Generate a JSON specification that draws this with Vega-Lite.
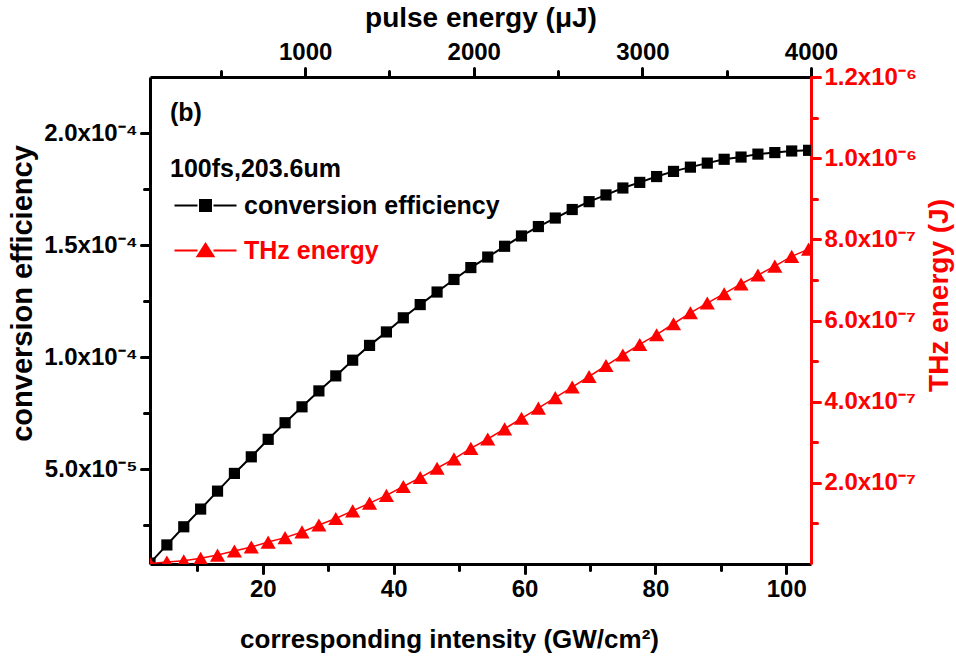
{
  "$schema": "https://vega.github.io/schema/vega-lite/v6.json",
  "width": 661,
  "height": 487,
  "autosize": {"type": "none"},
  "padding": {"left": 150, "top": 77, "right": 145, "bottom": 97},
  "background": "white",
  "config": {
    "font": "Liberation Sans",
    "view": {"stroke": null},
    "axis": {
      "grid": false,
      "domainColor": "black",
      "domainWidth": 3,
      "tickColor": "black",
      "tickWidth": 3,
      "tickCap": "round",
      "labelFont": "Liberation Sans",
      "labelFontSize": 24,
      "labelFontWeight": "bold",
      "labelColor": "black",
      "labelOverlap": false,
      "labelFlush": false,
      "labelPadding": 4,
      "titleFont": "Liberation Sans",
      "titleFontSize": 26,
      "titleFontWeight": "bold",
      "titleColor": "black"
    },
    "legend": {
      "labelFont": "Liberation Sans",
      "titleFont": "Liberation Sans"
    }
  },
  "data": {
    "values": [
      {"intensity": 2.77, "pulse": 80, "ce": 8.2e-6, "thz": 1e-9},
      {"intensity": 5.35, "pulse": 180, "ce": 1.63e-5, "thz": 5e-9},
      {"intensity": 7.93, "pulse": 280, "ce": 2.44e-5, "thz": 8e-9},
      {"intensity": 10.51, "pulse": 380, "ce": 3.23e-5, "thz": 1.4e-8},
      {"intensity": 13.09, "pulse": 480, "ce": 4.03e-5, "thz": 2.2e-8},
      {"intensity": 15.67, "pulse": 580, "ce": 4.82e-5, "thz": 3.2e-8},
      {"intensity": 18.25, "pulse": 680, "ce": 5.56e-5, "thz": 4.2e-8},
      {"intensity": 20.83, "pulse": 780, "ce": 6.34e-5, "thz": 5.4e-8},
      {"intensity": 23.41, "pulse": 880, "ce": 7.08e-5, "thz": 6.5e-8},
      {"intensity": 26.0, "pulse": 980, "ce": 7.79e-5, "thz": 7.9e-8},
      {"intensity": 28.58, "pulse": 1080, "ce": 8.5e-5, "thz": 9.6e-8},
      {"intensity": 31.16, "pulse": 1180, "ce": 9.17e-5, "thz": 1.12e-7},
      {"intensity": 33.74, "pulse": 1280, "ce": 9.87e-5, "thz": 1.31e-7},
      {"intensity": 36.32, "pulse": 1380, "ce": 1.053e-4, "thz": 1.5e-7},
      {"intensity": 38.9, "pulse": 1480, "ce": 1.113e-4, "thz": 1.69e-7},
      {"intensity": 41.48, "pulse": 1580, "ce": 1.176e-4, "thz": 1.91e-7},
      {"intensity": 44.06, "pulse": 1680, "ce": 1.235e-4, "thz": 2.13e-7},
      {"intensity": 46.64, "pulse": 1780, "ce": 1.291e-4, "thz": 2.36e-7},
      {"intensity": 49.22, "pulse": 1880, "ce": 1.347e-4, "thz": 2.59e-7},
      {"intensity": 51.8, "pulse": 1980, "ce": 1.4e-4, "thz": 2.85e-7},
      {"intensity": 54.38, "pulse": 2080, "ce": 1.447e-4, "thz": 3.08e-7},
      {"intensity": 56.96, "pulse": 2180, "ce": 1.495e-4, "thz": 3.33e-7},
      {"intensity": 59.54, "pulse": 2280, "ce": 1.541e-4, "thz": 3.59e-7},
      {"intensity": 62.12, "pulse": 2380, "ce": 1.583e-4, "thz": 3.84e-7},
      {"intensity": 64.7, "pulse": 2480, "ce": 1.621e-4, "thz": 4.1e-7},
      {"intensity": 67.29, "pulse": 2580, "ce": 1.659e-4, "thz": 4.36e-7},
      {"intensity": 69.87, "pulse": 2680, "ce": 1.694e-4, "thz": 4.62e-7},
      {"intensity": 72.45, "pulse": 2780, "ce": 1.724e-4, "thz": 4.89e-7},
      {"intensity": 75.03, "pulse": 2880, "ce": 1.755e-4, "thz": 5.15e-7},
      {"intensity": 77.61, "pulse": 2980, "ce": 1.78e-4, "thz": 5.41e-7},
      {"intensity": 80.19, "pulse": 3080, "ce": 1.806e-4, "thz": 5.65e-7},
      {"intensity": 82.77, "pulse": 3180, "ce": 1.829e-4, "thz": 5.92e-7},
      {"intensity": 85.35, "pulse": 3280, "ce": 1.848e-4, "thz": 6.19e-7},
      {"intensity": 87.93, "pulse": 3380, "ce": 1.866e-4, "thz": 6.43e-7},
      {"intensity": 90.51, "pulse": 3480, "ce": 1.883e-4, "thz": 6.66e-7},
      {"intensity": 93.09, "pulse": 3580, "ce": 1.893e-4, "thz": 6.9e-7},
      {"intensity": 95.67, "pulse": 3680, "ce": 1.906e-4, "thz": 7.12e-7},
      {"intensity": 98.25, "pulse": 3780, "ce": 1.913e-4, "thz": 7.34e-7},
      {"intensity": 100.83, "pulse": 3880, "ce": 1.92e-4, "thz": 7.58e-7},
      {"intensity": 103.41, "pulse": 3980, "ce": 1.923e-4, "thz": 7.76e-7}
    ]
  },
  "resolve": {"scale": {"x": "independent", "y": "independent", "color": "independent"}},
  "layer": [
    {
      "encoding": {
        "x": {
          "field": "intensity",
          "type": "quantitative",
          "scale": {"domain": [2.77, 103.78], "nice": false, "zero": false},
          "axis": {
            "orient": "bottom",
            "values": [10, 20, 30, 40, 50, 60, 70, 80, 90, 100],
            "labelExpr": "datum.value % 20 == 0 ? '' + datum.value : ''",
            "tickSize": {"condition": {"test": "datum.value % 20 == 0", "value": 9}, "value": 6},
            "title": "corresponding intensity (GW/cm²)",
            "titleX": 299,
            "titlePadding": 25
          }
        },
        "y": {
          "field": "ce",
          "type": "quantitative",
          "scale": {"domain": [7.8e-6, 2.25e-4], "nice": false, "zero": false},
          "axis": {
            "orient": "left",
            "values": [2.5e-5, 5e-5, 7.5e-5, 1e-4, 1.25e-4, 1.5e-4, 1.75e-4, 2e-4],
            "labelExpr": "abs(datum.value-5e-5)<1e-7 ? '5.0x10⁻⁵' : abs(datum.value-1e-4)<1e-7 ? '1.0x10⁻⁴' : abs(datum.value-1.5e-4)<1e-7 ? '1.5x10⁻⁴' : abs(datum.value-2e-4)<1e-7 ? '2.0x10⁻⁴' : ''",
            "tickSize": {"condition": {"test": "round(datum.value*4e4) % 2 == 0", "value": 9}, "value": 6},
            "title": "conversion efficiency",
            "titleFontSize": 29,
            "titleY": 216,
            "titlePadding": 6
          }
        }
      },
      "layer": [
        {"mark": {"type": "line", "color": "black", "strokeWidth": 2, "clip": true}},
        {
          "mark": {"type": "point", "shape": "square", "filled": true, "size": 125, "opacity": 1, "clip": true},
          "encoding": {
            "color": {
              "datum": "conversion efficiency",
              "type": "nominal",
              "scale": {"range": ["black"]},
              "legend": {
                "orient": "none",
                "legendX": 20,
                "legendY": 24,
                "padding": 0,
                "title": ["(b)", "100fs,203.6um"],
                "titleFontSize": 25,
                "titleFontWeight": "bold",
                "titleColor": "black",
                "titleLineHeight": 56,
                "titlePadding": 11,
                "titleLimit": 400,
                "labelFontSize": 25,
                "labelFontWeight": "bold",
                "labelColor": "black",
                "labelLimit": 400,
                "labelOffset": 26,
                "symbolOffset": 23,
                "symbolSize": 100,
                "symbolType": "M-6.2,0H-1.6M1.6,0H6.2M-1.1,-1.1H1.1V1.1H-1.1Z",
                "symbolStrokeColor": "black",
                "symbolStrokeWidth": 2
              }
            }
          }
        }
      ]
    },
    {
      "encoding": {
        "x": {
          "field": "intensity",
          "type": "quantitative",
          "scale": {"domain": [2.77, 103.78], "nice": false, "zero": false},
          "axis": null
        },
        "y": {
          "field": "thz",
          "type": "quantitative",
          "scale": {"domain": [0, 1.2e-6], "nice": false},
          "axis": {
            "orient": "right",
            "values": [1e-7, 2e-7, 3e-7, 4e-7, 5e-7, 6e-7, 7e-7, 8e-7, 9e-7, 1e-6, 1.1e-6, 1.2e-6],
            "labelExpr": "round(datum.value*1e7) % 2 == 1 ? '' : round(datum.value*1e7) < 10 ? round(datum.value*1e7) + '.0x10⁻⁷' : round(datum.value*1e7) == 10 ? '1.0x10⁻⁶' : '1.2x10⁻⁶'",
            "tickSize": {"condition": {"test": "round(datum.value*1e7) % 2 == 0", "value": 9}, "value": 6},
            "domainColor": "red",
            "tickColor": "red",
            "labelColor": "red",
            "titleColor": "red",
            "title": "THz energy (J)",
            "titleFontSize": 28,
            "titleAngle": 270,
            "titleBaseline": "top",
            "titleY": 218,
            "titlePadding": 9
          }
        }
      },
      "layer": [
        {"mark": {"type": "line", "color": "red", "strokeWidth": 1.5, "clip": true}},
        {
          "mark": {"type": "point", "shape": "triangle-up", "filled": true, "size": 230, "opacity": 1, "clip": true},
          "encoding": {
            "color": {
              "datum": "THz energy",
              "type": "nominal",
              "scale": {"range": ["red"]},
              "legend": {
                "orient": "none",
                "legendX": 20,
                "legendY": 161,
                "padding": 0,
                "title": null,
                "labelFontSize": 25,
                "labelFontWeight": "bold",
                "labelColor": "red",
                "labelLimit": 400,
                "labelOffset": 26,
                "symbolOffset": 23,
                "symbolSize": 100,
                "symbolType": "M-6.2,0H-1.6M1.6,0H6.2M0,-1.35L1.6,1.15H-1.6Z",
                "symbolStrokeColor": "red",
                "symbolStrokeWidth": 2
              }
            }
          }
        }
      ]
    },
    {
      "mark": {"type": "point", "opacity": 0},
      "encoding": {
        "x": {
          "field": "pulse",
          "type": "quantitative",
          "scale": {"domain": [80, 4000], "nice": false, "zero": false},
          "axis": {
            "orient": "top",
            "values": [500, 1000, 1500, 2000, 2500, 3000, 3500, 4000],
            "format": "d",
            "labelExpr": "datum.value % 1000 == 0 ? datum.label : ''",
            "tickSize": {"condition": {"test": "datum.value % 1000 == 0", "value": 9}, "value": 6},
            "title": "pulse energy (μJ)",
            "titleFontSize": 28,
            "titlePadding": 8
          }
        }
      }
    }
  ]
}
